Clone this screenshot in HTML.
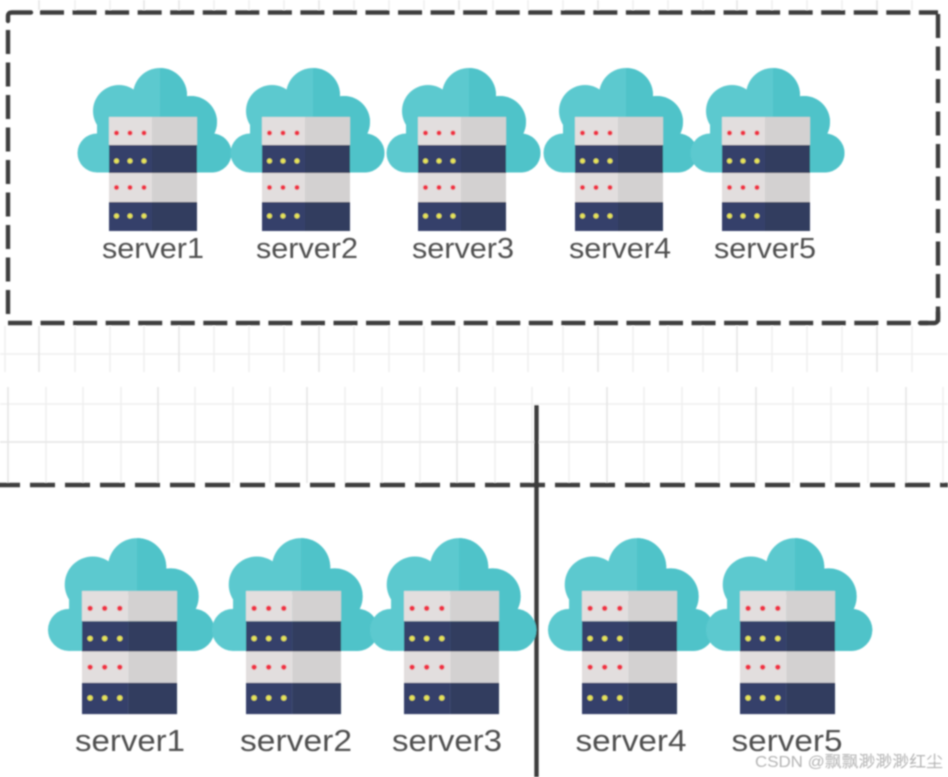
<!DOCTYPE html>
<html>
<head>
<meta charset="utf-8">
<style>
html,body{margin:0;padding:0;background:#fff;width:948px;height:777px;overflow:hidden}
svg{display:block}
text{font-family:"Liberation Sans","Noto Sans CJK SC",sans-serif}
.s{fill:#505050;text-anchor:middle}
</style>
</head>
<body>
<svg width="948" height="777" viewBox="0 0 948 777" xmlns="http://www.w3.org/2000/svg">
<defs>
<filter id="b" x="-2%" y="-2%" width="104%" height="104%"><feGaussianBlur stdDeviation="0.75"/></filter>
<clipPath id="cr"><rect x="160" y="50" width="90" height="140"/></clipPath>
<g id="cloudshape">
  <circle cx="97" cy="153" r="19.5"/>
  <circle cx="212" cy="153" r="19.5"/>
  <circle cx="160" cy="95" r="27"/>
  <circle cx="119" cy="111" r="26"/>
  <circle cx="191" cy="122" r="26"/>
  <rect x="97" y="125" width="115" height="47.5"/>
</g>
<g id="icon">
  <use href="#cloudshape" fill="#5cc9cf"/>
  <g clip-path="url(#cr)"><use href="#cloudshape" fill="#4fc3c9"/></g>
  <rect x="109" y="117" width="43" height="28" fill="#e2dede"/>
  <rect x="152" y="117" width="45" height="28" fill="#d3d1d1"/>
  <rect x="109" y="145" width="43" height="28" fill="#36416a"/>
  <rect x="152" y="145" width="45" height="28" fill="#313c5e"/>
  <rect x="109" y="173" width="43" height="29" fill="#e2dede"/>
  <rect x="152" y="173" width="45" height="29" fill="#d3d1d1"/>
  <rect x="109" y="202" width="43" height="29" fill="#36416a"/>
  <rect x="152" y="202" width="45" height="29" fill="#313c5e"/>
  <g fill="#ee3344">
    <circle cx="116.500" cy="133" r="2.500"/><circle cx="130" cy="133" r="2.500"/><circle cx="144" cy="133" r="2.500"/>
    <circle cx="116.500" cy="187.500" r="2.500"/><circle cx="130" cy="187.500" r="2.500"/><circle cx="144" cy="187.500" r="2.500"/>
  </g>
  <g fill="#e6e35a">
    <circle cx="116.500" cy="161" r="2.500"/><circle cx="130" cy="161" r="2.500"/><circle cx="144" cy="161" r="2.500"/>
    <circle cx="116.500" cy="216" r="2.500"/><circle cx="130" cy="216" r="2.500"/><circle cx="144" cy="216" r="2.500"/>
  </g>
</g>
</defs>

<rect width="948" height="777" fill="#fff"/>

<g filter="url(#b)">
<!-- grid: top band -->
<g stroke="#f0f0f0" stroke-width="1.600" fill="none">
  <path d="M0 354H948"/>
  <path d="M5 326V372M75 326V372M110 326V372M144 326V372M214 326V372M249 326V372M284 326V372M354 326V372M389 326V372M424 326V372M493 326V372M528 326V372M563 326V372M633 326V372M668 326V372M703 326V372M772 326V372M807 326V372M842 326V372M912 326V372"/>
  <path d="M75 0V10M110 0V10M214 0V10M249 0V10M284 0V10M354 0V10M389 0V10M424 0V10M493 0V10M528 0V10M563 0V10M633 0V10M668 0V10M703 0V10M772 0V10M807 0V10M842 0V10M912 0V10"/>
  <path d="M46 387V483M83 387V483M121 387V483M195 387V483M233 387V483M270 387V483M345 387V483M382 387V483M420 387V483M495 387V483M532 387V483M569 387V483M644 387V483M682 387V483M719 387V483M793 387V483M831 387V483M868 387V483M943 387V483"/>
  <path d="M0 404H948"/>
</g>
<g stroke="#e8e8e8" stroke-width="1.800" fill="none">
  <path d="M39 326V372M179 326V372M319 326V372M459 326V372M598 326V372M737 326V372M877 326V372"/>
  <path d="M39 0V10M144 0V10M179 0V10M319 0V10M459 0V10M598 0V10M737 0V10M877 0V10"/>
  <path d="M8 387V483M158 387V483M307 387V483M457 387V483M607 387V483M756 387V483M906 387V483"/>
  <path d="M0 442H948"/>
</g>

<!-- top dashed box -->
<g stroke="#3c3c3c" stroke-width="4.400" fill="none">
  <path d="M8 21V16Q8 12.500 12 12.500H31" stroke-linecap="round"/>
  <path d="M40 12.500H938" stroke-dasharray="24 8.550"/>
  <path d="M8 30V316" stroke-dasharray="24 8.500"/>
  <path d="M938 14V322" stroke-dasharray="24 8.500"/>
  <path d="M8 323H928" stroke-dasharray="24 8.550"/>
  <path d="M920 323H934Q938 323 938 318V312" stroke-linecap="round"/>
  <!-- mid dashed -->
  <path d="M-5 485H948" stroke-dasharray="25 10" stroke-width="4.400"/>
  <path d="M536.500 405V777" stroke-width="4.400"/>
</g>

<!-- top icons -->
<use href="#icon"/>
<use href="#icon" transform="translate(153,0)"/>
<use href="#icon" transform="translate(309,0)"/>
<use href="#icon" transform="translate(466,0)"/>
<use href="#icon" transform="translate(613,0)"/>

<!-- bottom icons -->
<use href="#icon" transform="translate(82,591) scale(1.080) translate(-109,-117)"/>
<use href="#icon" transform="translate(246,591) scale(1.080) translate(-109,-117)"/>
<use href="#icon" transform="translate(404,591) scale(1.080) translate(-109,-117)"/>
<use href="#icon" transform="translate(582,591) scale(1.080) translate(-109,-117)"/>
<use href="#icon" transform="translate(740,591) scale(1.080) translate(-109,-117)"/>

<!-- labels -->
<g font-size="29">
  <text class="s" x="153" y="258" textLength="102" lengthAdjust="spacingAndGlyphs">server1</text>
  <text class="s" x="307" y="258" textLength="102" lengthAdjust="spacingAndGlyphs">server2</text>
  <text class="s" x="463" y="258" textLength="102" lengthAdjust="spacingAndGlyphs">server3</text>
  <text class="s" x="620" y="258" textLength="102" lengthAdjust="spacingAndGlyphs">server4</text>
  <text class="s" x="765" y="258" textLength="102" lengthAdjust="spacingAndGlyphs">server5</text>
</g>
<g font-size="31">
  <text class="s" x="130" y="751" textLength="110" lengthAdjust="spacingAndGlyphs">server1</text>
  <text class="s" x="296" y="751" textLength="112" lengthAdjust="spacingAndGlyphs">server2</text>
  <text class="s" x="447" y="751" textLength="110" lengthAdjust="spacingAndGlyphs">server3</text>
  <text class="s" x="631" y="751" textLength="111" lengthAdjust="spacingAndGlyphs">server4</text>
  <text class="s" x="787" y="751" textLength="111" lengthAdjust="spacingAndGlyphs">server5</text>
</g>
<text x="755" y="767" font-size="16" fill="#b4b4b4" textLength="188" lengthAdjust="spacingAndGlyphs">CSDN @飘飘渺渺渺红尘</text>
</g>
</svg>
</body>
</html>
